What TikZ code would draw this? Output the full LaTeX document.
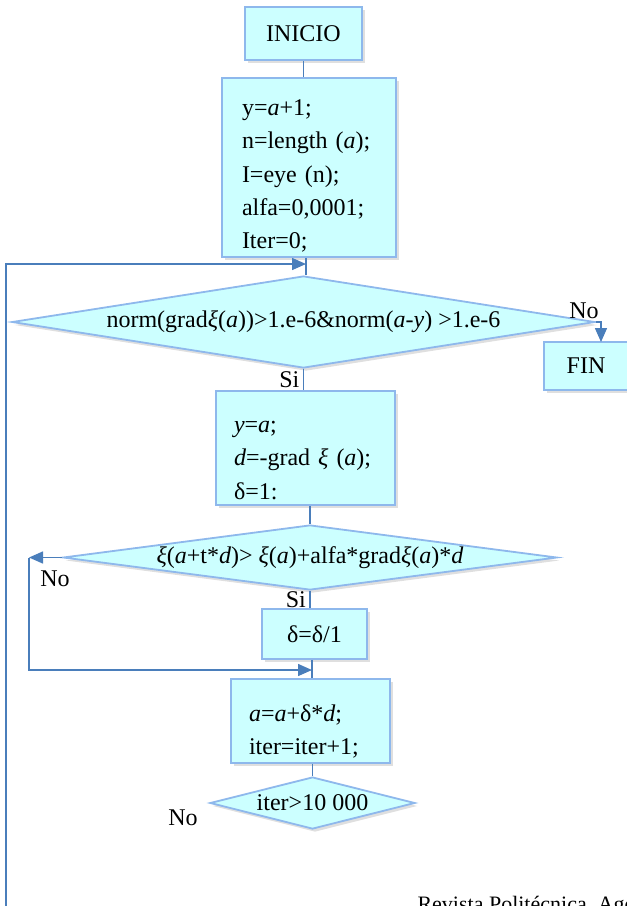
\documentclass[tikz,border=0pt]{standalone}
\usepackage{fontspec}
\setmainfont{Liberation Serif}
\usetikzlibrary{shapes.geometric,arrows.meta,shadows}
\definecolor{boxfill}{HTML}{CCFFFF}
\definecolor{boxline}{HTML}{8EB8EC}
\definecolor{linkcol}{HTML}{4A7EBB}
\newcommand{\lift}[1]{\rule{0pt}{#1}}

\begin{document}
\begin{tikzpicture}[x=1pt,y=-1pt,font=\fontsize{24}{33.3}\selectfont,
  box/.style={draw=boxline,fill=boxfill,line width=1.8pt,inner sep=0pt,
    drop shadow={shadow xshift=2.5pt,shadow yshift=-3pt,opacity=0.25}},
  codebox/.style={box,align=left,inner xsep=18pt},
  test/.style={box,diamond},
  link/.style={draw=linkcol,line width=1.5pt},
  tip/.style={-{Triangle[length=14pt,width=12pt]}}]
\useasboundingbox (0,0) rectangle (627,906);
\clip (0,0) rectangle (627,906);
\node[box,minimum width=117pt,minimum height=53pt] (inicio) at (303.5,33.5) {INICIO};
\node[codebox,inner xsep=20pt,text width=134pt,minimum height=179pt] (init) at (309,167.5) {\lift{33pt}y=\textit{a}+1;\\ n=length (\textit{a});\\ I=eye (n);\\ alfa=0,0001;\\ Iter=0;};
\node[test,aspect=6.34,minimum width=583pt,minimum height=92pt] (stop) at (303.5,322) {norm(grad\textit{ξ}(\textit{a}))>1.e-6\&norm(\textit{a}-\textit{y}) >1.e-6};
\node[box,minimum width=84pt,minimum height=48pt] (fin) at (586,366) {FIN};
\node[codebox,text width=143pt,minimum height=114pt] (dir) at (305.5,448) {\lift{36pt}\textit{y}=\textit{a};\\ \textit{d}=-grad~\textit{ξ}~(\textit{a});\\ δ=1:};
\node[test,aspect=7.6,minimum width=494pt,minimum height=65pt] (armijo) at (310,557.5) {\textit{ξ}(\textit{a}+t*\textit{d})> \textit{ξ}(\textit{a})+alfa*grad\textit{ξ}(\textit{a})*\textit{d}};
\node[box,minimum width=105pt,minimum height=50pt] (halve) at (314.5,634) {δ=δ/1};
\node[codebox,text width=123pt,minimum height=84pt] (update) at (310.5,721) {\lift{37pt}\textit{a}=\textit{a}+δ*\textit{d};\\ iter=iter+1;};
\node[test,aspect=3.94,minimum width=205pt,minimum height=52pt] (limit) at (312.5,803) {iter>10 000};
% loop ends
\coordinate (entry) at (306,264);
\coordinate (back) at (6,915);
\coordinate (finin) at (601,342);
\coordinate (redo) at (29,557.5);
\coordinate (rejoin) at (312,670);
% connectors
\draw[link] (inicio.south) -- (inicio.south |- init.north);
\draw[link] (init.south -| entry) -- (entry |- stop.north);
\draw[link,tip] (back) |- (entry);
\draw[link,tip] (stop.east) -| (finin);
\node (no1) at (584,311) {No};
\draw[link] (stop.south) -- (stop.south |- dir.north) node[midway,anchor=east] (yes1) {Si};
\draw[link] (armijo.north |- dir.south) -- (armijo.north);
\draw[link,tip] (armijo.west) -- (redo);
\draw[link,tip] (redo) -- (redo |- rejoin) -- (rejoin);
\node (no2) at (55,579) {No};
\draw[link] (armijo.south) -- (armijo.south |- halve.north) node[midway,anchor=east] (yes2) {Si};
\draw[link] (halve.south -| rejoin) -- (rejoin |- update.north);
\draw[link] (update.south -| limit.north) -- (limit.north);
\node (no3) at (183,818) {No};
\node[anchor=base west,font=\fontsize{22}{26}\selectfont] (journal) at (414,911) {Revista Politécnica, Ago};
\end{tikzpicture}
\end{document}
